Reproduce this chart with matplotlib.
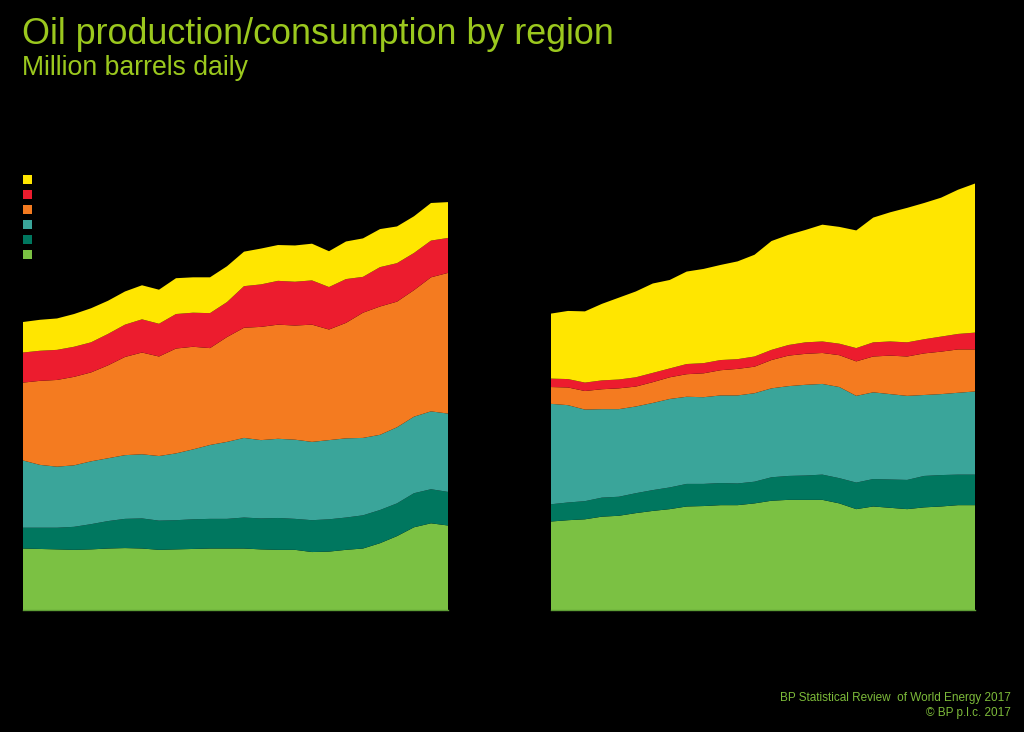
import matplotlib
matplotlib.use("Agg")
import matplotlib.pyplot as plt
from matplotlib.patches import Patch
import numpy as np

years = list(range(1991, 2017))
regions = ["North America", "S. & Cent. America", "Europe & Eurasia",
           "Middle East", "Africa", "Asia Pacific"]
colors = ["#7BC143", "#00775F", "#3AA59A", "#F47B20", "#EC1C2E", "#FFE600"]

# Production (million barrels daily)
prod_north_america = [13.9, 13.8, 13.7, 13.6, 13.7, 13.9, 14.0, 13.9, 13.6, 13.7, 13.8, 13.9, 13.9,
                      13.9, 13.7, 13.6, 13.6, 13.1, 13.2, 13.6, 13.9, 15.1, 16.7, 18.7, 19.6, 19.1]
prod_sc_america = [4.7, 4.8, 4.9, 5.2, 5.7, 6.2, 6.6, 6.8, 6.6, 6.6, 6.7, 6.7, 6.7,
                   7.0, 7.0, 7.2, 7.0, 7.2, 7.3, 7.3, 7.5, 7.5, 7.4, 7.7, 7.7, 7.6]
prod_europe_eurasia = [15.2, 14.2, 13.8, 13.9, 14.2, 14.2, 14.4, 14.5, 14.6, 15.1, 15.8, 16.7, 17.4,
                       18.0, 17.7, 17.9, 17.9, 17.7, 17.9, 17.9, 17.5, 17.0, 17.2, 17.3, 17.6, 17.7]
prod_middle_east = [17.6, 19.0, 19.6, 20.0, 20.1, 21.0, 22.2, 23.0, 22.5, 23.7, 23.2, 21.9, 23.7,
                    24.9, 25.6, 25.8, 25.8, 26.5, 25.0, 26.1, 28.3, 29.0, 28.4, 28.6, 30.3, 31.8]
prod_africa = [6.8, 6.8, 6.8, 6.8, 6.8, 7.1, 7.3, 7.5, 7.4, 7.8, 7.7, 7.9, 7.9,
               9.4, 9.6, 9.9, 9.9, 10.0, 9.6, 9.9, 8.1, 8.9, 8.7, 8.4, 8.3, 7.9]
prod_asia_pacific = [6.9, 7.0, 7.1, 7.4, 7.7, 7.5, 7.5, 7.7, 7.7, 8.1, 8.0, 8.1, 8.1,
                     7.8, 8.1, 8.1, 8.2, 8.3, 8.1, 8.5, 8.7, 8.6, 8.3, 8.3, 8.5, 8.1]

# Consumption (million barrels daily)
cons_north_america = [20.0, 20.3, 20.5, 21.1, 21.3, 21.9, 22.4, 22.8, 23.4, 23.5, 23.7, 23.7, 24.1,
                      24.7, 24.9, 24.9, 24.9, 24.1, 22.8, 23.4, 23.1, 22.8, 23.2, 23.4, 23.7, 23.7]
cons_sc_america = [3.9, 4.0, 4.1, 4.3, 4.3, 4.5, 4.7, 4.9, 5.1, 5.0, 5.0, 4.9, 4.9,
                   5.3, 5.4, 5.5, 5.7, 5.7, 6.0, 6.2, 6.4, 6.6, 7.1, 7.1, 6.9, 6.9]
cons_europe_eurasia = [22.7, 22.0, 20.7, 20.0, 19.8, 19.6, 19.7, 20.0, 19.7, 19.6, 19.8, 19.9, 20.0,
                       20.1, 20.3, 20.5, 20.5, 20.6, 19.6, 19.6, 19.3, 19.0, 18.3, 18.3, 18.5, 18.8]
cons_middle_east = [3.8, 4.0, 4.2, 4.5, 4.7, 4.5, 4.7, 4.9, 5.1, 5.4, 5.7, 6.0, 6.0,
                    6.4, 6.9, 7.0, 7.0, 7.2, 7.8, 8.1, 8.7, 8.9, 9.4, 9.6, 9.8, 9.5]
cons_africa = [1.9, 1.9, 1.9, 2.0, 2.0, 2.1, 2.1, 2.0, 2.3, 2.3, 2.3, 2.2, 2.3,
               2.3, 2.4, 2.6, 2.6, 2.6, 3.0, 3.2, 3.2, 3.2, 3.2, 3.4, 3.5, 3.8]
cons_asia_pacific = [14.7, 15.4, 16.1, 17.3, 18.5, 19.4, 20.2, 20.0, 20.9, 21.3, 21.5, 22.1, 23.0,
                     24.6, 24.9, 25.4, 26.4, 26.4, 26.6, 28.2, 29.2, 30.4, 30.8, 31.4, 32.6, 33.7]

production = [prod_north_america, prod_sc_america, prod_europe_eurasia,
              prod_middle_east, prod_africa, prod_asia_pacific]
consumption = [cons_north_america, cons_sc_america, cons_europe_eurasia,
               cons_middle_east, cons_africa, cons_asia_pacific]

plt.rcParams['font.family'] = ['Liberation Sans', 'DejaVu Sans']

W, H = 1024, 732
fig = plt.figure(figsize=(W / 100, H / 100), dpi=100, facecolor="black")

bottom = (H - 610) / H
height = 442.4 / H
ax1 = fig.add_axes([23 / W, bottom, (448 - 23) / W, height])
ax2 = fig.add_axes([551 / W, bottom, (975 - 551) / W, height])

for ax, data in ((ax1, production), (ax2, consumption)):
    ax.set_facecolor("black")
    ax.stackplot(years, *data, colors=colors, linewidth=0)
    ax.set_xlim(years[0], years[-1])
    ax.set_ylim(0, 100)
    ax.set_xticks([])
    ax.set_yticks([])
    for side in ("top", "left", "right"):
        ax.spines[side].set_visible(False)
    ax.spines["bottom"].set_color("#5E9E35")
    ax.spines["bottom"].set_linewidth(1.0)

title_color = "#9BC81E"
fig.text(22 / W, 1 - 44 / H, "Oil production/consumption by region",
         color=title_color, fontsize=25.8, va="baseline", ha="left")
fig.text(22 / W, 1 - 75 / H, "Million barrels daily",
         color=title_color, fontsize=19.2, va="baseline", ha="left")

foot_color = "#7DBB3A"
fig.text(1011 / W, 1 - 701 / H, "BP Statistical Review  of World Energy 2017",
         color=foot_color, fontsize=8.45, ha="right", va="baseline")
fig.text(1011 / W, 1 - 716 / H, "\u00a9 BP p.l.c. 2017",
         color=foot_color, fontsize=8.45, ha="right", va="baseline")

handles = [Patch(facecolor=c, edgecolor="none") for c in colors[::-1]]
leg = fig.legend(handles, regions[::-1], loc="upper left",
                 bbox_to_anchor=(19 / W, 1 - 171 / H), frameon=False,
                 handlelength=0.72, handleheight=0.72, handletextpad=0.6,
                 labelspacing=0.24, fontsize=9, borderaxespad=0, borderpad=0.3)
for t in leg.get_texts():
    t.set_color("black")

fig.savefig("out.png", dpi=100, facecolor="black")
